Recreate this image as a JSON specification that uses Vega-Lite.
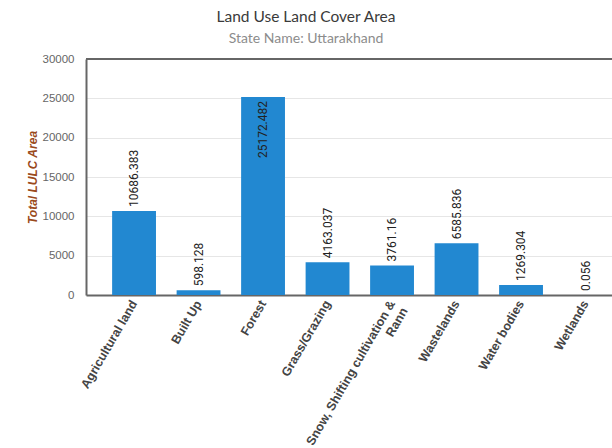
{
  "$schema": "https://vega.github.io/schema/vega-lite/v6.json",
  "width": 526,
  "height": 236,
  "autosize": {"type": "none"},
  "padding": {"left": 86, "top": 59, "right": 0, "bottom": 153},
  "background": "white",
  "config": {"view": {"stroke": null}, "axis": {"labelOverlap": false}},
  "title": {
    "text": "Land Use Land Cover Area",
    "subtitle": "State Name: Uttarakhand",
    "anchor": "middle",
    "dx": -43,
    "font": "Lato",
    "fontSize": 15.5,
    "fontWeight": "normal",
    "color": "#3a3a3a",
    "subtitleFont": "Lato",
    "subtitleFontSize": 14,
    "subtitleFontWeight": "normal",
    "subtitleColor": "#8c8c8c",
    "subtitlePadding": 7,
    "offset": 7
  },
  "data": {
    "values": [
      {"category": "Agricultural land", "area": 10686.383},
      {"category": "Built Up", "area": 598.128},
      {"category": "Forest", "area": 25172.482},
      {"category": "Grass/Grazing", "area": 4163.037},
      {"category": "Snow, Shifting cultivation & Rann", "area": 3761.16},
      {"category": "Wastelands", "area": 6585.836},
      {"category": "Water bodies", "area": 1269.304},
      {"category": "Wetlands", "area": 0.056}
    ]
  },
  "encoding": {
    "y": {
      "field": "area", "type": "quantitative",
      "scale": {"domain": [0, 30000], "nice": false},
      "axis": {
        "title": "Total LULC Area",
        "titleFont": "Liberation Sans",
        "titleFontStyle": "italic",
        "titleFontWeight": "bold",
        "titleFontSize": 12,
        "titleColor": "#9a4a1c",
        "titlePadding": 3,
        "labelFont": "Liberation Sans",
        "labelFontSize": 11.5,
        "labelColor": "#666666",
        "labelPadding": 12,
        "format": "d",
        "ticks": false,
        "grid": true,
        "tickMinStep": 5000,
        "tickCount": 6,
        "gridColor": "#e6e6e6",
        "domainColor": "#666666",
        "domainWidth": 2
      }
    }
  },
  "layer": [
    {
      "mark": {"type": "bar", "color": "#2288d1"},
      "encoding": {
        "x": {
          "field": "category", "type": "nominal", "sort": null,
          "scale": {"paddingInner": 0.32, "paddingOuter": 0.2377, "align": 0.852},
          "axis": {
            "title": null,
            "labelAngle": -60,
            "labelAlign": "right",
            "labelBaseline": "middle",
            "labelFont": "Liberation Sans",
            "labelFontWeight": "bold",
            "labelFontSize": 12.5,
            "labelColor": "#444444",
            "labelPadding": 6,
            "labelLimit": 300,
            "ticks": false,
            "grid": false,
            "domainColor": "#666666",
            "domainWidth": 2,
            "labelExpr": "datum.label == 'Snow, Shifting cultivation & Rann' ? ['Snow, Shifting cultivation &', 'Rann'] : datum.label"
          }
        }
      }
    },
    {
      "transform": [{"filter": "datum.area < 20000"}],
      "mark": {"type": "text", "angle": -90, "align": "left", "baseline": "middle", "dx": 4, "font": "Roboto", "fontSize": 12, "color": "#222222"},
      "encoding": {
        "x": {"field": "category", "type": "nominal", "sort": null},
        "text": {"field": "area", "type": "nominal"}
      }
    },
    {
      "transform": [{"filter": "datum.area >= 20000"}],
      "mark": {"type": "text", "angle": -90, "align": "right", "baseline": "middle", "dx": -4, "font": "Roboto", "fontSize": 12, "color": "#222222"},
      "encoding": {
        "x": {"field": "category", "type": "nominal", "sort": null},
        "text": {"field": "area", "type": "nominal"}
      }
    },
    {
      "mark": {"type": "rule", "color": "#666666", "strokeWidth": 2},
      "encoding": {"y": {"datum": 30000}}
    }
  ]
}
